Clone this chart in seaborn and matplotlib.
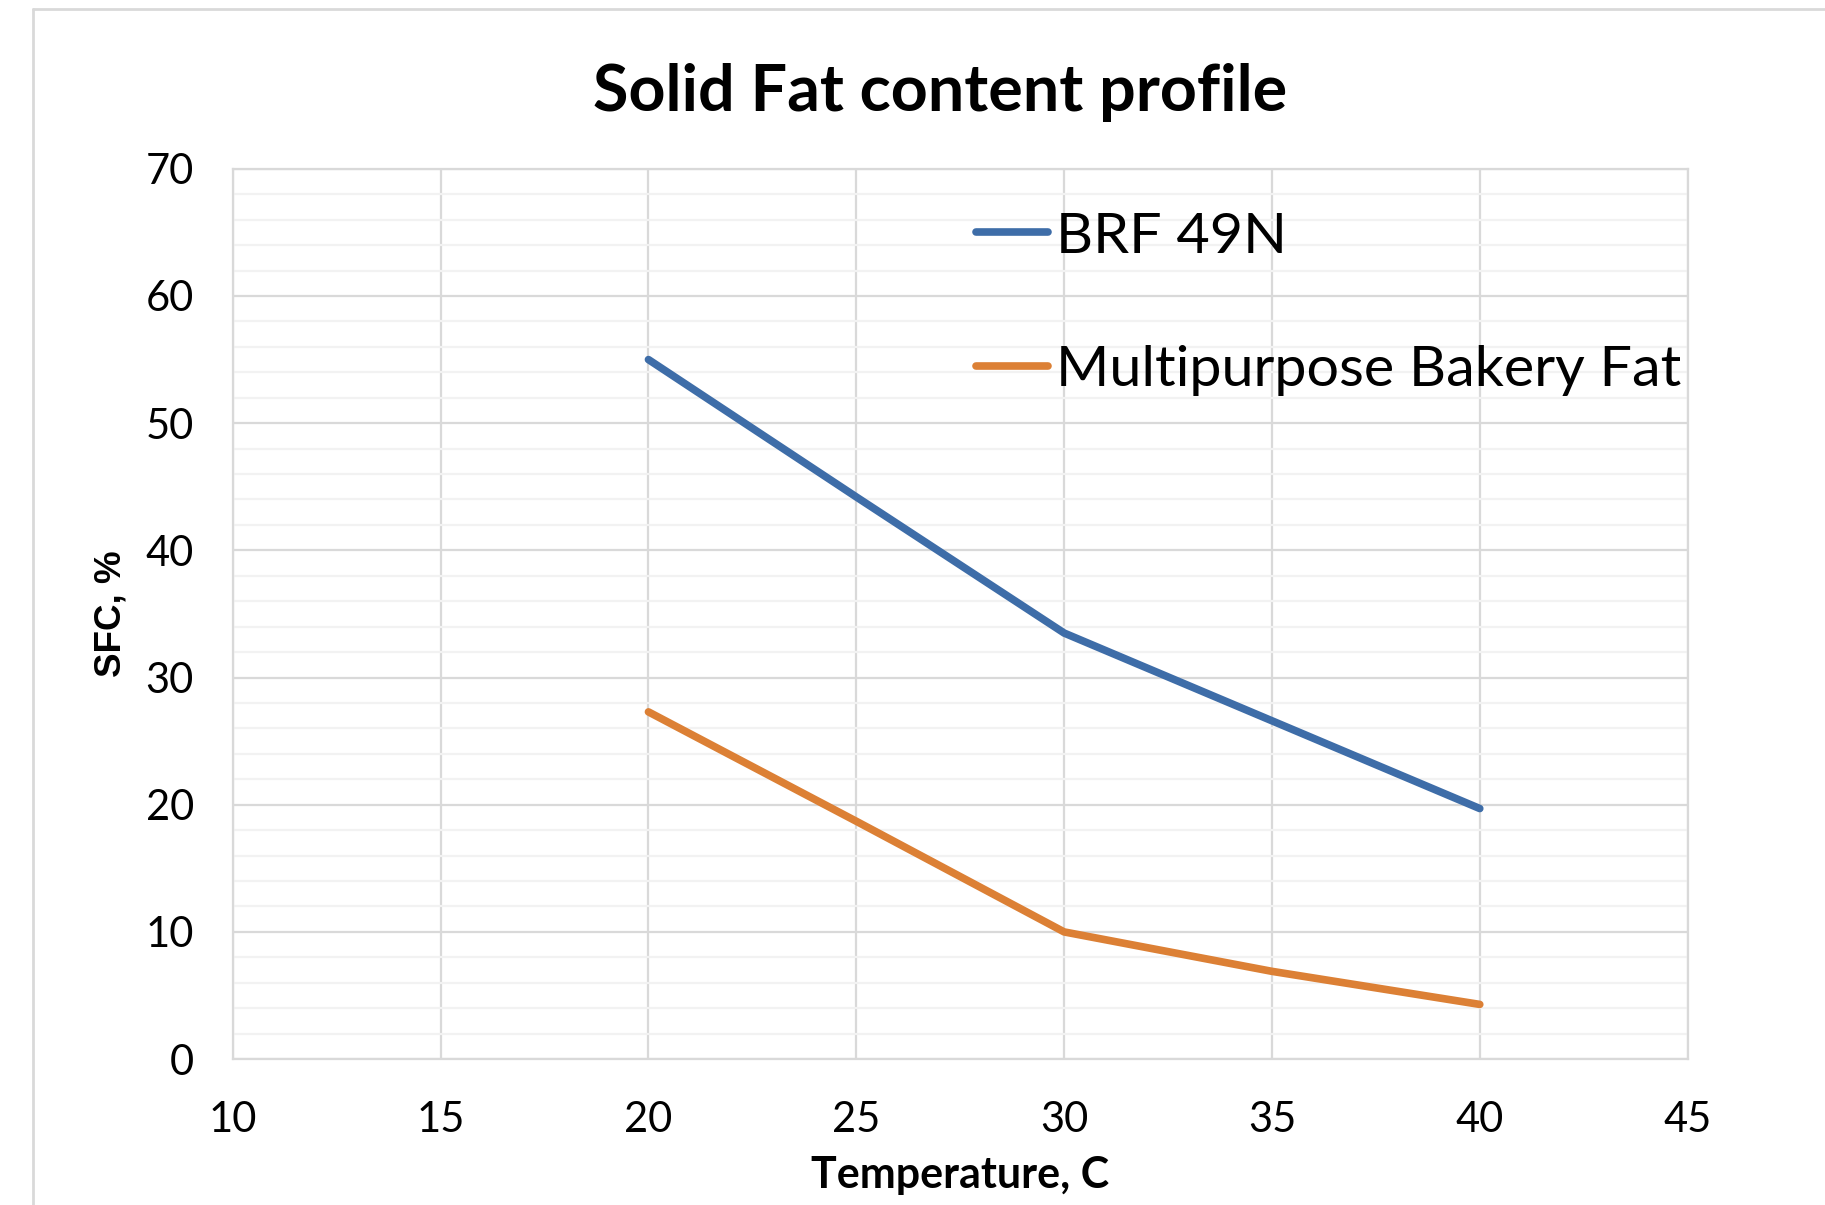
import matplotlib
matplotlib.use("Agg")
import matplotlib.pyplot as plt
from matplotlib.ticker import MultipleLocator
from matplotlib.lines import Line2D
import seaborn as sns
import pandas as pd

# Data
temperature = [20, 25, 30, 35, 40]
brf_49n = [55.0, 44.2, 33.5, 26.6, 19.7]
multipurpose = [27.3, 18.7, 10.0, 6.9, 4.3]
series_names = ["BRF 49N", "Multipurpose Bakery Fat"]
x_ticks = [10, 15, 20, 25, 30, 35, 40, 45]
y_ticks = [0, 10, 20, 30, 40, 50, 60, 70]

df = pd.DataFrame({
    "Temperature": temperature * 2,
    "SFC": brf_49n + multipurpose,
    "Series": [series_names[0]] * len(temperature) + [series_names[1]] * len(temperature),
})

sns.set_theme(style="white")
plt.rcParams["font.family"] = ["Lato", "DejaVu Sans"]
plt.rcParams["text.color"] = "black"
plt.rcParams["axes.labelcolor"] = "black"

W, H = 1825, 1205
fig = plt.figure(figsize=(W / 100, H / 100), dpi=100)
ax = fig.add_axes([232.8 / W, 1 - 1059.1 / H, (1687.6 - 232.8) / W, (1059.1 - 168.8) / H])

colors = {"BRF 49N": "#3E6DA8", "Multipurpose Bakery Fat": "#DC8035"}
LW = 5.5
sns.lineplot(data=df, x="Temperature", y="SFC", hue="Series", palette=colors,
             linewidth=LW, ax=ax, legend=False, sort=False)
for ln in ax.get_lines():
    ln.set_solid_capstyle("round")
    ln.set_solid_joinstyle("round")

ax.set_xlim(10, 45)
ax.set_ylim(0, 70)
ax.set_xticks(x_ticks)
ax.set_yticks(y_ticks)
ax.yaxis.set_minor_locator(MultipleLocator(2))
ax.grid(True, which="major", axis="both", color="#D9D9D9", linewidth=1.6)
ax.grid(True, which="minor", axis="y", color="#F2F2F2", linewidth=1.6)
ax.set_axisbelow(True)
for s in ax.spines.values():
    s.set_visible(True)
    s.set_color("#D9D9D9")
    s.set_linewidth(1.6)

ax.tick_params(axis="both", which="both", length=0, labelsize=30, colors="black")
ax.tick_params(axis="y", pad=28)
ax.tick_params(axis="x", pad=30)

ax.set_xlabel("Temperature, C", fontsize=31, fontweight="bold", labelpad=12)
ax.set_ylabel("SFC, %", fontsize=26.5, fontweight="bold", family=["Liberation Sans", "DejaVu Sans"], labelpad=12)

fig.text(940 / W, 1 - 93 / H, "Solid Fat content profile", fontsize=46.5, fontweight="bold",
         ha="center", va="center")

handles = [Line2D([], [], color=colors[n], linewidth=LW, solid_capstyle="round") for n in series_names]
leg = ax.legend(handles, series_names, loc="upper left", bbox_to_anchor=(0.511, 0.952),
                frameon=False, fontsize=41.4, handlelength=1.24, handletextpad=0.14,
                labelspacing=1.44, borderpad=0, borderaxespad=0)

# chart-area border
fig.add_artist(Line2D([32.6 / W, 1.0], [1 - 9.3 / H, 1 - 9.3 / H], color="#D9D9D9", linewidth=2, transform=fig.transFigure))
fig.add_artist(Line2D([32.6 / W, 32.6 / W], [0, 1 - 9.3 / H], color="#D9D9D9", linewidth=2, transform=fig.transFigure))

fig.savefig("out.png", dpi=100, facecolor="white")
